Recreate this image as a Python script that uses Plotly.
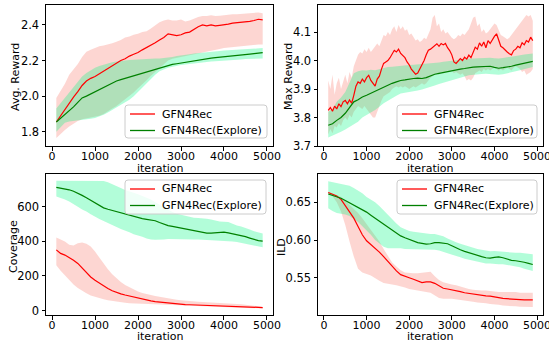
import plotly.graph_objects as go

# ---------------- data ----------------
iters = list(range(100, 5000, 100))          # 49 points
iters_fine = list(range(100, 4950, 50))      # 97 points (Max Reward red)

avg_red = [1.855, 1.89, 1.93, 1.96, 1.995, 2.025, 2.06, 2.085, 2.10, 2.11, 2.125, 2.14, 2.155, 2.17, 2.185, 2.20,
           2.21, 2.225, 2.235, 2.245, 2.26, 2.272, 2.285, 2.30, 2.315, 2.33, 2.35, 2.345, 2.34, 2.345, 2.355, 2.36,
           2.375, 2.39, 2.40, 2.395, 2.40, 2.395, 2.398, 2.40, 2.405, 2.41, 2.412, 2.415, 2.418, 2.42, 2.425, 2.432, 2.428]
avg_red_hi = [1.99, 2.03, 2.07, 2.12, 2.15, 2.18, 2.22, 2.25, 2.26, 2.27, 2.28, 2.285, 2.29, 2.297, 2.305, 2.315,
              2.33, 2.335, 2.345, 2.35, 2.36, 2.365, 2.38, 2.40, 2.415, 2.425, 2.43, 2.425, 2.425, 2.43, 2.42, 2.425,
              2.435, 2.445, 2.45, 2.45, 2.455, 2.45, 2.452, 2.456, 2.458, 2.46, 2.46, 2.462, 2.465, 2.465, 2.468, 2.47, 2.466]
avg_red_lo = [1.765, 1.79, 1.81, 1.83, 1.845, 1.86, 1.87, 1.875, 1.88, 1.885, 1.89, 1.90, 1.915, 1.93, 1.945, 1.96,
              1.98, 2.00, 2.02, 2.045, 2.07, 2.09, 2.115, 2.14, 2.16, 2.18, 2.20, 2.21, 2.215, 2.22, 2.225, 2.23,
              2.235, 2.24, 2.245, 2.25, 2.255, 2.26, 2.265, 2.27, 2.272, 2.275, 2.278, 2.28, 2.283, 2.285, 2.288, 2.29, 2.29]
avg_grn = [1.855, 1.875, 1.895, 1.915, 1.94, 1.965, 1.99, 2.00, 2.012, 2.025, 2.037, 2.05, 2.062, 2.075, 2.085, 2.093,
           2.10, 2.107, 2.115, 2.122, 2.13, 2.138, 2.145, 2.152, 2.16, 2.167, 2.173, 2.178, 2.182, 2.186, 2.19, 2.195,
           2.20, 2.205, 2.21, 2.212, 2.214, 2.216, 2.218, 2.22, 2.222, 2.224, 2.227, 2.23, 2.233, 2.236, 2.239, 2.242, 2.245]
avg_grn_hi = [1.93, 1.96, 1.99, 2.02, 2.05, 2.08, 2.11, 2.13, 2.145, 2.16, 2.17, 2.178, 2.185, 2.19, 2.194, 2.198,
              2.20, 2.203, 2.205, 2.207, 2.208, 2.209, 2.21, 2.211, 2.212, 2.214, 2.216, 2.22, 2.225, 2.23, 2.233, 2.236,
              2.24, 2.243, 2.246, 2.248, 2.25, 2.252, 2.254, 2.256, 2.258, 2.26, 2.262, 2.264, 2.265, 2.266, 2.268, 2.27, 2.27]
avg_grn_lo = [1.80, 1.825, 1.85, 1.857, 1.86, 1.865, 1.867, 1.87, 1.873, 1.877, 1.885, 1.895, 1.908, 1.92, 1.935, 1.95,
              1.965, 1.98, 2.00, 2.02, 2.045, 2.07, 2.095, 2.12, 2.14, 2.15, 2.16, 2.165, 2.17, 2.175, 2.178, 2.18,
              2.183, 2.186, 2.19, 2.192, 2.194, 2.196, 2.198, 2.20, 2.202, 2.203, 2.205, 2.206, 2.208, 2.209, 2.21, 2.212, 2.212]

max_red = [3.825, 3.835, 3.822, 3.84, 3.83, 3.848, 3.838, 3.855, 3.86, 3.848, 3.862, 3.85, 3.878, 3.91, 3.925, 3.92,
           3.935, 3.925, 3.94, 3.948, 3.93, 3.92, 3.91, 3.935, 3.945, 3.97, 3.99, 3.995, 4.00, 4.01, 4.025, 4.036,
           4.03, 4.04, 4.025, 4.018, 4.01, 3.995, 3.985, 3.97, 3.96, 3.952, 3.956, 3.97, 3.985, 4.00, 4.02, 4.036,
           4.04, 4.047, 4.052, 4.059, 4.05, 4.06, 4.055, 4.06, 4.045, 4.035, 4.02, 3.995, 3.99, 4.00, 4.007, 4.0,
           4.012, 4.005, 4.019, 4.01, 4.03, 4.047, 4.04, 4.062, 4.05, 4.065, 4.045, 4.07, 4.06, 4.075, 4.085, 4.094,
           4.07, 4.05, 4.045, 4.036, 4.03, 4.024, 4.02, 4.035, 4.04, 4.05, 4.045, 4.062, 4.055, 4.07, 4.065, 4.082, 4.07]
max_red_hi = [3.93, 3.90, 3.95, 3.88, 3.92, 3.94, 3.90, 3.93, 3.95, 3.92, 3.96, 3.94, 3.98, 4.00, 4.02, 4.03,
              4.025, 4.04, 4.03, 4.045, 4.03, 4.04, 4.05, 4.06, 4.05, 4.07, 4.09, 4.085, 4.10, 4.09, 4.11, 4.12,
              4.10, 4.125, 4.11, 4.12, 4.105, 4.11, 4.09, 4.095, 4.08, 4.07, 4.075, 4.065, 4.07, 4.08, 4.075, 4.09,
              4.11, 4.15, 4.16, 4.12, 4.13, 4.10, 4.11, 4.095, 4.10, 4.09, 4.08, 4.075, 4.08, 4.09, 4.085, 4.095,
              4.09, 4.10, 4.11, 4.13, 4.15, 4.155, 4.12, 4.13, 4.10, 4.11, 4.095, 4.10, 4.11, 4.12, 4.13, 4.125,
              4.11, 4.09, 4.085, 4.08, 4.075, 4.08, 4.09, 4.10, 4.11, 4.12, 4.13, 4.14, 4.15, 4.16, 4.155, 4.16, 4.14]
max_red_lo = [3.74, 3.76, 3.745, 3.77, 3.765, 3.78, 3.77, 3.79, 3.80, 3.79, 3.81, 3.80, 3.82, 3.83, 3.84, 3.835,
              3.83, 3.84, 3.83, 3.82, 3.81, 3.80, 3.80, 3.82, 3.84, 3.86, 3.875, 3.88, 3.885, 3.89, 3.90, 3.905,
              3.91, 3.905, 3.91, 3.905, 3.91, 3.905, 3.90, 3.905, 3.91, 3.905, 3.91, 3.915, 3.92, 3.915, 3.92, 3.93,
              3.94, 3.945, 3.95, 3.955, 3.95, 3.96, 3.955, 3.96, 3.965, 3.96, 3.965, 3.955, 3.96, 3.955, 3.95, 3.955,
              3.945, 3.93, 3.935, 3.93, 3.94, 3.955, 3.96, 3.965, 3.96, 3.97, 3.965, 3.97, 3.965, 3.97, 3.975, 3.97,
              3.965, 3.97, 3.965, 3.97, 3.975, 3.97, 3.965, 3.975, 3.98, 3.975, 3.97, 3.96, 3.965, 3.95, 3.955, 3.96, 3.97]
max_grn = [3.773, 3.778, 3.79, 3.80, 3.815, 3.835, 3.855, 3.862, 3.872, 3.878, 3.885, 3.892, 3.90, 3.908, 3.913, 3.92,
           3.925, 3.93, 3.932, 3.935, 3.937, 3.938, 3.937, 3.94, 3.947, 3.952, 3.955, 3.958, 3.962, 3.966, 3.968, 3.97,
           3.972, 3.975, 3.977, 3.978, 3.979, 3.98, 3.98, 3.976, 3.973, 3.975, 3.977, 3.98, 3.984, 3.987, 3.99, 3.995, 3.997]
max_grn_hi = [3.82, 3.83, 3.855, 3.87, 3.89, 3.92, 3.955, 3.962, 3.966, 3.965, 3.968, 3.966, 3.97, 3.972, 3.977, 3.978,
              3.98, 3.982, 3.983, 3.984, 3.985, 3.986, 3.987, 3.988, 3.989, 3.99, 3.993, 3.996, 3.998, 4.0, 4.002, 4.004,
              4.005, 4.006, 4.007, 4.008, 4.009, 4.01, 4.01, 4.008, 4.007, 4.009, 4.012, 4.015, 4.017, 4.019, 4.021, 4.024, 4.025]
max_grn_lo = [3.73, 3.735, 3.743, 3.75, 3.758, 3.765, 3.775, 3.785, 3.80, 3.81, 3.818, 3.826, 3.838, 3.85, 3.86, 3.868,
              3.876, 3.884, 3.887, 3.89, 3.892, 3.895, 3.898, 3.903, 3.907, 3.912, 3.918, 3.924, 3.928, 3.932, 3.936, 3.94,
              3.944, 3.948, 3.95, 3.952, 3.953, 3.954, 3.954, 3.952, 3.95, 3.952, 3.955, 3.958, 3.962, 3.966, 3.97, 3.974, 3.977]

cov_red = [350, 330, 320, 306, 290, 272, 245, 216, 194, 175, 158, 142, 128, 115, 105, 97,
           90, 84, 77, 70, 65, 60, 56, 52, 49, 46, 43, 41, 39, 37, 35, 34,
           33, 32, 31, 30, 29, 28, 28, 27, 26, 25, 24, 23, 22, 21, 20, 19, 18]
cov_red_hi = [421, 410, 398, 380, 375, 388, 392, 385, 370, 340, 305, 270, 238, 210, 185, 165,
              148, 135, 122, 110, 102, 95, 90, 85, 80, 75, 70, 66, 63, 60, 57, 55,
              53, 51, 50, 49, 48, 47, 46, 45, 44, 42, 40, 37, 34, 30, 27, 25, 23]
cov_red_lo = [262, 230, 200, 175, 150, 130, 115, 100, 88, 80, 72, 65, 60, 56, 52, 48,
              45, 42, 40, 38, 36, 34, 33, 32, 31, 30, 29, 28, 28, 27, 26, 26,
              25, 25, 24, 23, 22, 21, 21, 20, 19, 18, 18, 17, 16, 15, 14, 14, 13]
cov_grn = [710, 706, 702, 696, 688, 677, 664, 650, 635, 620, 602, 592, 584, 577, 570, 565,
           558, 550, 542, 535, 530, 526, 523, 518, 508, 498, 490, 485, 480, 476, 470, 464,
           459, 455, 450, 446, 446, 447, 449, 452, 448, 443, 438, 433, 426, 418, 410, 403, 400]
cov_grn_hi = [748, 748, 748, 748, 748, 748, 748, 748, 748, 748, 748, 746, 740, 730, 718, 706,
              695, 688, 680, 670, 660, 650, 640, 625, 610, 595, 580, 568, 558, 552, 545, 540,
              535, 533, 532, 530, 525, 518, 513, 512, 510, 500, 490, 485, 478, 468, 458, 450, 445]
cov_grn_lo = [658, 650, 640, 629, 615, 598, 582, 571, 555, 540, 528, 517, 507, 495, 482, 470,
              460, 452, 440, 432, 425, 415, 410, 408, 408, 410, 412, 412, 412, 412, 411, 411,
              410, 410, 410, 408, 407, 405, 403, 400, 400, 398, 395, 390, 387, 383, 377, 370, 365]

ild_red = [0.663, 0.661, 0.6585, 0.654, 0.646, 0.638, 0.629, 0.618, 0.607, 0.599, 0.594, 0.5895, 0.584, 0.578, 0.5715, 0.5645,
           0.559, 0.554, 0.5515, 0.550, 0.548, 0.5455, 0.5435, 0.5445, 0.5445, 0.5425, 0.539, 0.536, 0.535, 0.534, 0.533, 0.5315,
           0.530, 0.529, 0.528, 0.5275, 0.527, 0.526, 0.5255, 0.525, 0.5235, 0.5225, 0.522, 0.5215, 0.521, 0.5205, 0.5205, 0.5205, 0.5205]
ild_red_hi = [0.664, 0.662, 0.660, 0.657, 0.652, 0.647, 0.642, 0.636, 0.629, 0.621, 0.613, 0.606, 0.598, 0.588, 0.578, 0.570,
              0.565, 0.560, 0.557, 0.556, 0.556, 0.556, 0.557, 0.558, 0.558, 0.552, 0.547, 0.544, 0.542, 0.541, 0.540, 0.538,
              0.536, 0.535, 0.534, 0.533, 0.533, 0.533, 0.532, 0.532, 0.531, 0.531, 0.531, 0.531, 0.531, 0.530, 0.530, 0.530, 0.530]
ild_red_lo = [0.662, 0.658, 0.650, 0.638, 0.620, 0.598, 0.578, 0.562, 0.557, 0.555, 0.553, 0.550, 0.546, 0.543, 0.542, 0.541,
              0.540, 0.539, 0.537, 0.535, 0.534, 0.533, 0.532, 0.531, 0.530, 0.527, 0.523, 0.522, 0.522, 0.522, 0.522, 0.521,
              0.520, 0.519, 0.518, 0.517, 0.516, 0.516, 0.515, 0.515, 0.514, 0.513, 0.513, 0.512, 0.512, 0.5115, 0.5115, 0.511, 0.511]
ild_grn = [0.661, 0.6595, 0.658, 0.6555, 0.6525, 0.6495, 0.646, 0.643, 0.6405, 0.637, 0.633, 0.629, 0.6255, 0.621, 0.6165, 0.6125,
           0.609, 0.6055, 0.603, 0.601, 0.598, 0.5965, 0.5955, 0.5945, 0.595, 0.5965, 0.5965, 0.596, 0.595, 0.5925, 0.5895, 0.587,
           0.585, 0.583, 0.581, 0.5795, 0.578, 0.5765, 0.576, 0.577, 0.5775, 0.5765, 0.5745, 0.573, 0.5725, 0.572, 0.5705, 0.569, 0.5675]
ild_grn_hi = [0.678, 0.677, 0.676, 0.675, 0.674, 0.672, 0.669, 0.666, 0.662, 0.657, 0.6535, 0.650, 0.645, 0.639, 0.633, 0.628,
              0.622, 0.617, 0.614, 0.612, 0.611, 0.610, 0.609, 0.608, 0.608, 0.608, 0.607, 0.605, 0.602, 0.599, 0.597, 0.595,
              0.593, 0.591, 0.590, 0.588, 0.587, 0.586, 0.585, 0.5855, 0.585, 0.584, 0.584, 0.583, 0.583, 0.583, 0.5825, 0.582, 0.581]
ild_grn_lo = [0.642, 0.6385, 0.636, 0.635, 0.634, 0.632, 0.628, 0.624, 0.619, 0.613, 0.607, 0.600, 0.595, 0.591, 0.589, 0.589,
              0.589, 0.589, 0.588, 0.588, 0.587, 0.587, 0.587, 0.587, 0.587, 0.587, 0.586, 0.585, 0.583, 0.581, 0.579, 0.577,
              0.575, 0.574, 0.572, 0.571, 0.570, 0.569, 0.569, 0.569, 0.568, 0.568, 0.567, 0.566, 0.565, 0.564, 0.562, 0.560, 0.559]

series_names = ["GFN4Rec", "GFN4Rec(Explore)"]
x_ticks = [0, 1000, 2000, 3000, 4000, 5000]
x_label = "iteration"
y_labels = ["Avg. Reward", "Max Reward", "Coverage", "ILD"]

# ---------------- styling ----------------
RED = "#ff0000"
GREEN = "#008000"
RED_FILL = "rgba(250,128,114,0.32)"
GREEN_FILL = "rgba(0,250,130,0.30)"
FONT = dict(family="DejaVu Sans", size=11, color="black")
XTICKFONT = dict(family="DejaVu Sans", size=11, color="black")
YTICKFONT = dict(family="DejaVu Sans", size=11.5, color="black")
LEGFONT = dict(family="DejaVu Sans", size=11, color="black")

W, H = 549, 343

fig = go.Figure()

panels = [
    dict(ax="", red=(iters, avg_red, avg_red_hi, avg_red_lo), grn=(iters, avg_grn, avg_grn_hi, avg_grn_lo)),
    dict(ax="2", red=(iters_fine, max_red, max_red_hi, max_red_lo), grn=(iters, max_grn, max_grn_hi, max_grn_lo)),
    dict(ax="3", red=(iters, cov_red, cov_red_hi, cov_red_lo), grn=(iters, cov_grn, cov_grn_hi, cov_grn_lo)),
    dict(ax="4", red=(iters, ild_red, ild_red_hi, ild_red_lo), grn=(iters, ild_grn, ild_grn_hi, ild_grn_lo)),
]

for p in panels:
    xa, ya = "x" + p["ax"], "y" + p["ax"]
    for (xs, m, hi, lo), fillc in ((p["red"], RED_FILL), (p["grn"], GREEN_FILL)):
        fig.add_trace(go.Scatter(x=list(xs) + list(xs)[::-1], y=list(hi) + list(lo)[::-1],
                                 fill="toself", fillcolor=fillc, line=dict(width=0),
                                 mode="lines", showlegend=False, hoverinfo="skip",
                                 xaxis=xa, yaxis=ya))
    for (xs, m, hi, lo), col, name in ((p["red"], RED, series_names[0]), (p["grn"], GREEN, series_names[1])):
        fig.add_trace(go.Scatter(x=xs, y=m, mode="lines", line=dict(color=col, width=1.2),
                                 name=name, showlegend=False, xaxis=xa, yaxis=ya))

def dom(a, b, total):
    return [a / total, b / total]

xd_left = dom(46, 273, W)
xd_right = dom(318, 543, W)
yd_top = [(H - 146) / H, (H - 5) / H]
yd_bot = [(H - 315) / H, (H - 174) / H]

axis_common = dict(showline=True, linecolor="black", linewidth=1, mirror=True,
                   ticks="outside", ticklen=3.5, tickcolor="black", tickwidth=1,
                   showgrid=False, zeroline=False, automargin=False,
                   ticklabeloverflow="allow")

def xax(domain, anchor):
    return dict(axis_common, domain=domain, anchor=anchor, range=[-140, 5140], tickfont=XTICKFONT,
                tickvals=x_ticks, ticktext=[str(v) for v in x_ticks], ticklabelstandoff=-4)

def yax(domain, anchor, rng, tv, tt):
    return dict(axis_common, domain=domain, anchor=anchor, range=rng, tickfont=YTICKFONT,
                tickvals=tv, ticktext=tt)

def px(xp):
    return xp / W

def py(yp):
    return (H - yp) / H

annots = []
shapes = []
# axis titles
for cx, cy in ((160, 168.5), (430, 168.5), (160, 336), (430, 336)):
    annots.append(dict(text=x_label, x=px(cx), y=py(cy), xref="paper", yref="paper",
                       showarrow=False, font=FONT, xanchor="center", yanchor="middle"))
for lab, (cx, cy) in zip(y_labels, ((15, 77), (288, 77), (13, 247), (281, 247))):
    annots.append(dict(text=lab, x=px(cx), y=py(cy), xref="paper", yref="paper",
                       showarrow=False, font=FONT, textangle=-90, xanchor="center", yanchor="middle"))

# legends (box, handle lines, labels) drawn in paper space
legend_boxes = [(125, 105, 267, 138), (397, 105, 537, 138), (125, 180, 266, 214), (397, 180, 537, 214)]
r = 3
for (x0, y0, x1, y1) in legend_boxes:
    path = (f"M {px(x0 + r)},{py(y0)} L {px(x1 - r)},{py(y0)} Q {px(x1)},{py(y0)} {px(x1)},{py(y0 + r)} "
            f"L {px(x1)},{py(y1 - r)} Q {px(x1)},{py(y1)} {px(x1 - r)},{py(y1)} "
            f"L {px(x0 + r)},{py(y1)} Q {px(x0)},{py(y1)} {px(x0)},{py(y1 - r)} "
            f"L {px(x0)},{py(y0 + r)} Q {px(x0)},{py(y0)} {px(x0 + r)},{py(y0)} Z")
    shapes.append(dict(type="path", path=path, xref="paper", yref="paper", layer="above",
                       fillcolor="rgba(255,255,255,0.8)", line=dict(color="#cccccc", width=1)))
    for k, (col, name) in enumerate(((RED, series_names[0]), (GREEN, series_names[1]))):
        ly = y0 + 9 + 16.5 * k
        shapes.append(dict(type="line", xref="paper", yref="paper", layer="above",
                           x0=px(x0 + 5), x1=px(x0 + 30), y0=py(ly), y1=py(ly),
                           line=dict(color=col, width=1.3)))
        annots.append(dict(text=name, x=px(x0 + 35), y=py(ly), xref="paper", yref="paper",
                           showarrow=False, font=LEGFONT, xanchor="left", yanchor="middle"))

fig.update_layout(
    width=W, height=H, margin=dict(l=0, r=0, t=0, b=0, pad=0, autoexpand=False),
    paper_bgcolor="white", plot_bgcolor="white", font=FONT,
    xaxis=xax(xd_left, "y"),
    yaxis=yax(yd_top, "x", [1.72, 2.512], [1.8, 2.0, 2.2, 2.4], ["1.8", "2.0", "2.2", "2.4"]),
    xaxis2=xax(xd_right, "y2"),
    yaxis2=yax(yd_top, "x2", [3.7, 4.195], [3.7, 3.8, 3.9, 4.0, 4.1], ["3.7", "3.8", "3.9", "4.0", "4.1"]),
    xaxis3=xax(xd_left, "y3"),
    yaxis3=yax(yd_bot, "x3", [-25, 787], [0, 200, 400, 600], ["0", "200", "400", "600"]),
    xaxis4=xax(xd_right, "y4"),
    yaxis4=yax(yd_bot, "x4", [0.5005, 0.6876], [0.55, 0.60, 0.65], ["0.55", "0.60", "0.65"]),
    annotations=annots,
    shapes=shapes,
    showlegend=False,
)

fig.write_html("out.html", config={"displayModeBar": False},
               post_script="document.body.style.margin='0';document.body.style.padding='0';"
                           "document.body.style.overflow='hidden';")
